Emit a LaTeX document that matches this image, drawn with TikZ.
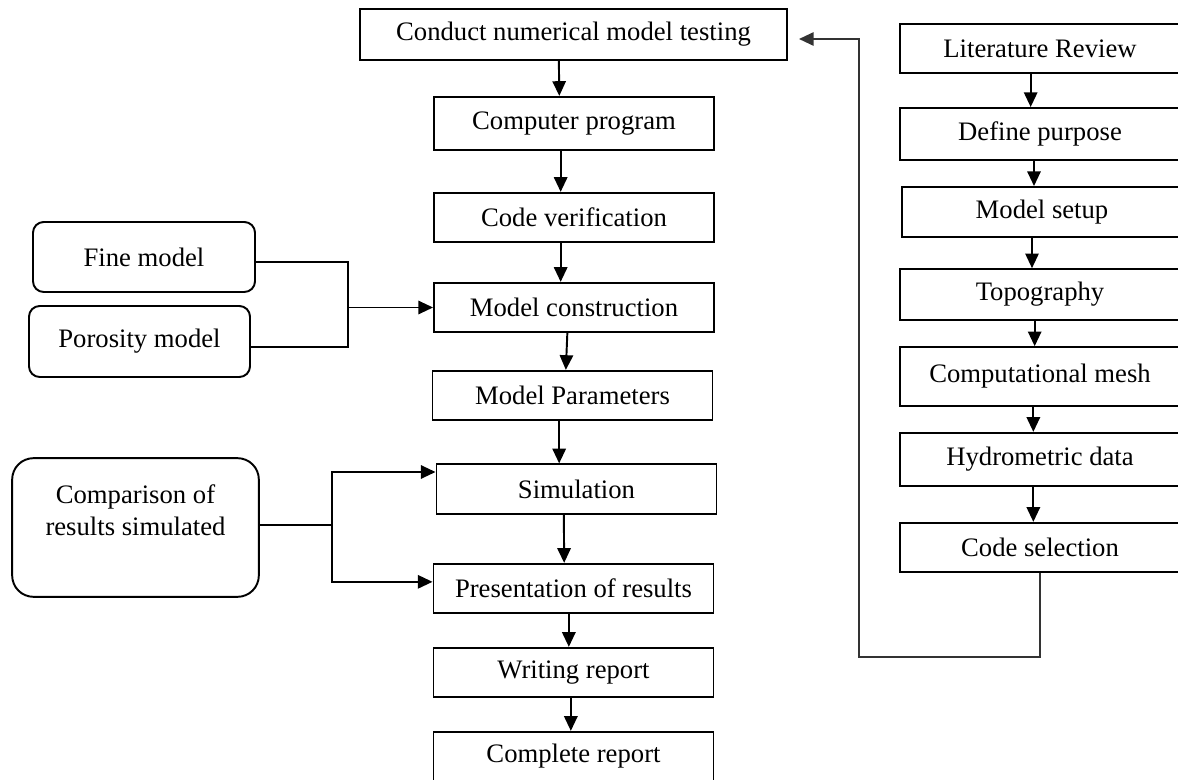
\documentclass[tikz,border=0pt]{standalone}
\usepackage{fontspec}
\setmainfont{Liberation Serif}
\usetikzlibrary{arrows.meta, positioning}

\begin{document}
\begin{tikzpicture}[x=0.75pt, y=-0.75pt]
  \tikzset{stage/.style={draw, line width=1.45pt, minimum width=210pt, minimum height=37pt, inner sep=2pt, font=\fontsize{20}{24}\selectfont},
    source/.style={stage, rounded corners=8pt},
    flow/.style={line width=1.45pt, -{Triangle[length=11pt, width=10pt]}},
    link/.style={line width=1.45pt}}
  \useasboundingbox (0,0) rectangle (1178,780);
  % main column
  \node[stage, minimum width=320pt, minimum height=38pt] (conduct) at (573.5,34.5) {Conduct numerical model testing};
  \node[stage, minimum height=40pt] (program) at (574,123.5) {Computer program};
  \node[stage] (verif) at (574,217.5) {Code verification};
  \node[stage] (constr) at (574,307.5) {Model construction};
  \node[stage] (params) at (572.5,395.5) {Model Parameters};
  \node[stage] (simul) at (576.5,489) {Simulation};
  \node[stage] (present) at (573.5,588.5) {Presentation of results};
  \node[stage] (writing) at (573.5,672.5) {Writing report};
  \node[stage] (complete) at (573.5,756.5) {Complete report};
  % preparation column
  \node[stage] (lit) at (1040,48.5) {Literature Review};
  \node[stage, minimum height=39pt] (purpose) at (1040,134) {Define purpose};
  \node[stage, minimum height=37.5pt] (setup) at (1042,212) {Model setup};
  \node[stage, minimum height=38pt] (topo) at (1040,294.5) {Topography};
  \node[stage, minimum height=44pt] (mesh) at (1040,376.5) {Computational mesh};
  \node[stage, minimum height=40pt] (hydro) at (1040,459.5) {Hydrometric data};
  \node[stage] (codesel) at (1040,547.5) {Code selection};
  % inputs
  \node[source, minimum width=166.5pt, minimum height=52.5pt] (fine) at (144,257) {Fine model};
  \node[source, minimum width=165.75pt, minimum height=53.25pt] (porosity) at (139.5,341.5) {Porosity model};
  \node[source, rounded corners=16pt, align=center, minimum width=185pt, minimum height=104pt] (compare) at (135.5,527.5) {Comparison of\\results simulated\\[2pt]\mbox{}};

  \draw[flow] ([xshift=-11pt]conduct.south) -- ([xshift=-11pt]program.north);
  \draw[flow] ([xshift=-10pt]program.south) -- ([xshift=-10pt]verif.north);
  \draw[flow] ([xshift=-10pt]verif.south) -- ([xshift=-10pt]constr.north);
  \draw[flow] ([xshift=-5pt]constr.south) -- ([xshift=-5pt]params.north);
  \draw[flow] ([xshift=-10pt]params.south) -- ([xshift=-13pt]simul.north);
  \draw[flow] ([xshift=-9.5pt]simul.south) -- ([xshift=-7pt]present.north);
  \draw[flow] ([xshift=-3.5pt]present.south) -- ([xshift=-3.5pt]writing.north);
  \draw[flow] ([xshift=-2pt]writing.south) -- ([xshift=-2pt]complete.north);

  \draw[flow] ([xshift=-7pt]lit.south) -- ([xshift=-7pt]purpose.north);
  \draw[flow] ([xshift=-4.5pt]purpose.south) -- ([xshift=-6pt]setup.north);
  \draw[flow] ([xshift=-7.5pt]setup.south) -- ([xshift=-6pt]topo.north);
  \draw[flow] ([xshift=-4pt]topo.south) -- ([xshift=-4pt]mesh.north);
  \draw[flow] ([xshift=-5pt]mesh.south) -- ([xshift=-5pt]hydro.north);
  \draw[flow] ([xshift=-5pt]hydro.south) -- ([xshift=-5pt]codesel.north);

  % feedback loop
  \coordinate (loopbot) at (859,657);
  \coordinate (looptop) at (859,39);
  \coordinate (loopend) at (799,39);
  \draw[flow, black!80] (codesel.south) |- (loopbot) -- (looptop) -- (loopend);

  % joins on the left
  \coordinate (fjoin) at (348,307.5);
  \draw[link] ([yshift=-4pt]fine.east) -| (fjoin) |- ([yshift=-4pt]porosity.east);
  \draw[flow] (fjoin) -- (constr.west);
  \coordinate (cjoin) at (332,525);
  \draw[link] (compare.east |- cjoin) -- (cjoin);
  \draw[flow] (cjoin) |- ([yshift=12.75pt]simul.west);
  \draw[flow] (cjoin) |- ([yshift=5pt]present.west);
\end{tikzpicture}
\end{document}
